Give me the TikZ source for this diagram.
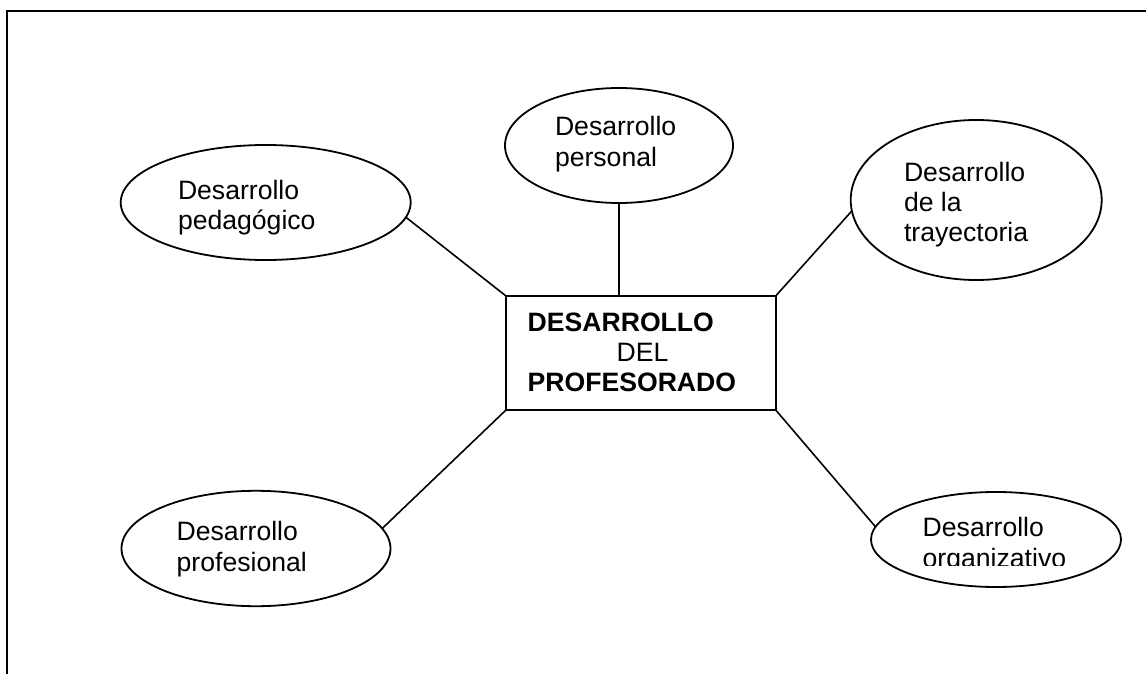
\documentclass[tikz,border=0pt]{standalone}
\usepackage{fontspec}
\setmainfont{Liberation Sans}
\usetikzlibrary{shapes.geometric}
\begin{document}
\begin{tikzpicture}[x=0.5pt,y=-0.5pt,
  bubble/.style={draw, ellipse, line width=0.9pt, inner sep=0pt, outer sep=0pt},
  mainbox/.style={draw, rectangle, line width=0.9pt, inner sep=0pt, outer sep=0pt},
  lbl/.style={anchor=base west, inner sep=0pt, outer sep=0pt, font=\fontsize{13.3}{16}\selectfont},
  link/.style={line width=0.8pt},
  frame/.style={line width=1pt}]
\useasboundingbox (0,0) rectangle (1146,674);
\coordinate (ftr) at (1146,11);
\coordinate (ftl) at (7,11);
\coordinate (fbl) at (7,674);
\draw[frame] (ftr) -- (ftl) -- (fbl);

% ellipses
\node[bubble, minimum width=145pt, minimum height=57.5pt] (ped) at (265.7,202.5) {};
\node[bubble, minimum width=114pt, minimum height=57.5pt] (pers) at (619,145.5) {};
\node[bubble, minimum width=125.5pt, minimum height=80pt] (tray) at (976.2,200) {};
\node[bubble, minimum width=134.5pt, minimum height=57.7pt] (prof) at (256,548.5) {};
\node[bubble, minimum width=125pt, minimum height=47.5pt] (org) at (996,539.5) {};

% central box
\node[mainbox, minimum width=134.85pt, minimum height=57pt] (box) at (640.85,353) {};

% labels
\node[lbl] (ped1) at (178,199) {Desarrollo};
\node[lbl] (ped2) at (178,229) {pedagógico};
\node[lbl] (pers1) at (555,136) {Desarrollo};
\node[lbl] (pers2) at (555,167) {personal};
\node[lbl] (tray1) at (904,181.7) {Desarrollo};
\node[lbl] (tray2) at (904,211.7) {de la};
\node[lbl] (tray3) at (904,241.5) {trayectoria};
\node[lbl] (prof1) at (176.7,540) {Desarrollo};
\node[lbl] (prof2) at (176.7,571.7) {profesional};
\node[lbl] (org1) at (922.7,536.7) {Desarrollo};
\begin{scope}
\clip (900,545) rectangle (1100,565);
\node[lbl] (org2) at (922.7,567.7) {organizativo};
\end{scope}
\node[lbl, font=\fontsize{13.3}{16}\selectfont\bfseries] (c1) at (527.7,331) {DESARROLLO};
\node[lbl] (c2) at (616.7,361.7) {DEL};
\node[lbl, font=\fontsize{13.3}{16}\selectfont\bfseries] (c3) at (527.7,391.7) {PROFESORADO};

% connectors
\draw[link] (ped.-6) -- (box.north west);
\draw[link] (pers.south) -- (pers.south |- box.north);
\draw[link] (tray.185) -- (box.north east);
\draw[link] (prof.9) -- (box.south west);
\draw[link] (org.174) -- (box.south east);
\end{tikzpicture}
\end{document}
